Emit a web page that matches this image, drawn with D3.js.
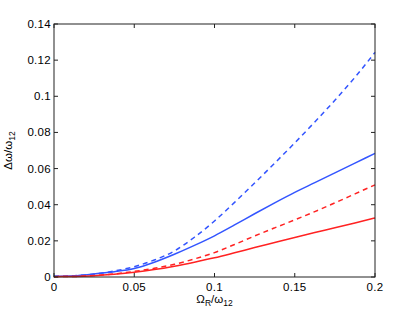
<!DOCTYPE html>
<html>
<head>
<meta charset="utf-8">
<script src="https://cdn.jsdelivr.net/npm/d3@7"></script>
<style>
  body { margin: 0; background: #fff; }
  svg { display: block; }
  text { font-family: "Liberation Sans", Arial, sans-serif; fill: #000; }
</style>
</head>
<body>
<div id="chart"></div>
<script>
// x values (Omega_R / omega_12)
const xVals = [0, 0.0125, 0.025, 0.0375, 0.05, 0.0625, 0.075, 0.0875, 0.1, 0.1125, 0.125, 0.1375, 0.15, 0.1625, 0.175, 0.1875, 0.2];

// series
const blueDashed = [0.0004, 0.0007, 0.0016, 0.0033, 0.0057, 0.0094, 0.0144, 0.0220, 0.0310, 0.0413, 0.0520, 0.0630, 0.0742, 0.0858, 0.0978, 0.1105, 0.1243];
const blueSolid  = [0.0004, 0.0007, 0.0017, 0.0029, 0.0047, 0.0082, 0.0126, 0.0175, 0.0228, 0.0288, 0.0350, 0.0410, 0.0468, 0.0522, 0.0576, 0.0630, 0.0684];
const redDashed  = [0.0002, 0.0003, 0.0008, 0.0017, 0.0031, 0.0048, 0.0070, 0.0100, 0.0135, 0.0180, 0.0227, 0.0272, 0.0316, 0.0362, 0.0410, 0.0460, 0.0510];
const redSolid   = [0.0002, 0.0003, 0.0007, 0.0015, 0.0026, 0.0041, 0.0060, 0.0082, 0.0106, 0.0134, 0.0163, 0.0191, 0.0219, 0.0246, 0.0272, 0.0299, 0.0327];

const xTicks = [0, 0.05, 0.1, 0.15, 0.2];
const yTicks = [0, 0.02, 0.04, 0.06, 0.08, 0.1, 0.12, 0.14];

const series = [
    { values: blueDashed, color: "#3355ff", dash: "5,4" },
    { values: blueSolid, color: "#3355ff", dash: null },
    { values: redDashed, color: "#ff2222", dash: "5,4" },
    { values: redSolid, color: "#ff2222", dash: null }
];

const width = 415, height = 312;
const plotL = 54, plotR = 375, plotT = 24, plotB = 277;

const svg = d3.select("#chart")
    .append("svg")
    .attr("width", width)
    .attr("height", height);

const x = d3.scaleLinear().domain([0, 0.2]).range([plotL, plotR]);
const y = d3.scaleLinear().domain([0, 0.14]).range([plotB, plotT]);

// curves
const line = d3.line()
    .x((d, i) => x(xVals[i]))
    .y(d => y(d))
    .curve(d3.curveMonotoneX);

series.forEach(s => {
    svg.append("path")
        .attr("d", line(s.values))
        .attr("fill", "none")
        .attr("stroke", s.color)
        .attr("stroke-width", 1.5)
        .attr("stroke-dasharray", s.dash);
});

// box
svg.append("rect")
    .attr("x", plotL)
    .attr("y", plotT)
    .attr("width", plotR - plotL)
    .attr("height", plotB - plotT)
    .attr("fill", "none")
    .attr("stroke", "#222")
    .attr("stroke-width", 1);

// inward ticks on all sides
const tickLen = 4;
xTicks.forEach(t => {
    svg.append("line").attr("x1", x(t)).attr("x2", x(t)).attr("y1", plotB).attr("y2", plotB - tickLen).attr("stroke", "#222");
    svg.append("line").attr("x1", x(t)).attr("x2", x(t)).attr("y1", plotT).attr("y2", plotT + tickLen).attr("stroke", "#222");
});
yTicks.forEach(t => {
    svg.append("line").attr("x1", plotL).attr("x2", plotL + tickLen).attr("y1", y(t)).attr("y2", y(t)).attr("stroke", "#222");
    svg.append("line").attr("x1", plotR).attr("x2", plotR - tickLen).attr("y1", y(t)).attr("y2", y(t)).attr("stroke", "#222");
});

// tick labels
svg.selectAll(".xlab")
    .data(xTicks)
    .enter()
    .append("text")
    .attr("x", d => x(d))
    .attr("y", plotB + 14)
    .attr("text-anchor", "middle")
    .attr("font-size", "11.5px")
    .attr("letter-spacing", "0.3px")
    .text(d => d3.format("")(d));

svg.selectAll(".ylab")
    .data(yTicks)
    .enter()
    .append("text")
    .attr("x", plotL - 3)
    .attr("y", d => y(d) + 4)
    .attr("text-anchor", "end")
    .attr("font-size", "11.5px")
    .attr("letter-spacing", "0.3px")
    .text(d => d3.format("")(d));

// x axis label
const xl = svg.append("text")
    .attr("x", x(0.1))
    .attr("y", 303)
    .attr("text-anchor", "middle")
    .attr("font-size", "11.5px");
xl.append("tspan").text("Ω");
xl.append("tspan").attr("font-size", "8.5px").attr("dy", 3).text("R");
xl.append("tspan").attr("dy", -3).text("/ω");
xl.append("tspan").attr("font-size", "8.5px").attr("dy", 3).text("12");

// y axis label
const yl = svg.append("text")
    .attr("transform", "translate(12," + ((plotT + plotB) / 2) + ") rotate(-90)")
    .attr("text-anchor", "middle")
    .attr("font-size", "11.5px");
yl.append("tspan").text("Δω/ω");
yl.append("tspan").attr("font-size", "8.5px").attr("dy", 3).text("12");
</script>
</body>
</html>
